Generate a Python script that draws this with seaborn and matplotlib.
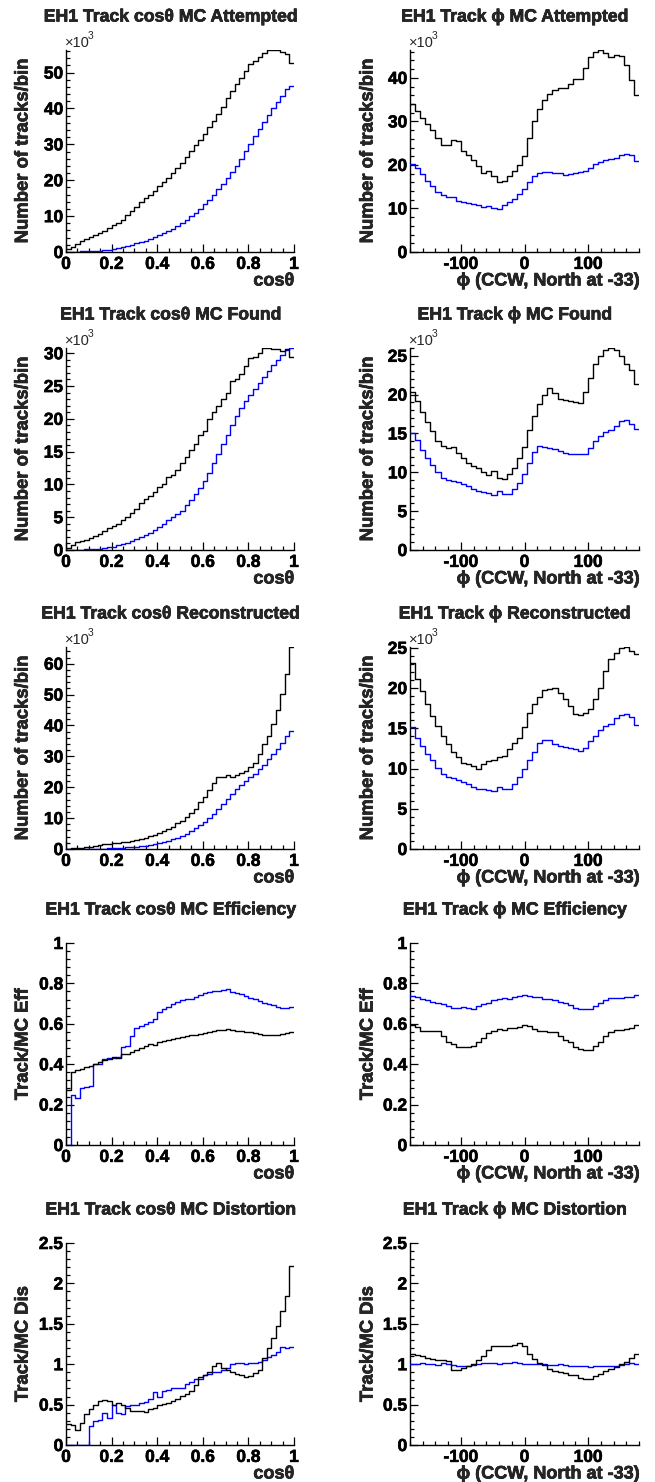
import numpy as np
import pandas as pd
import matplotlib
matplotlib.use("Agg")
import matplotlib.pyplot as plt
import matplotlib.patheffects as pe
import seaborn as sns
from matplotlib.ticker import MultipleLocator, FixedLocator, FuncFormatter

# ---------------------------------------------------------------- binning
cos_range = (0.0, 1.0)       # 50 bins in cos(theta)
cos_nbins = 50
phi_range = (-180.0, 180.0)  # 45 bins of 8 degrees
phi_nbins = 45

cos_ticks = [0, 0.2, 0.4, 0.6, 0.8, 1.0]
phi_ticks = [-100, 0, 100]

# ---------------------------------------------------------------- counts (x10^3 tracks/bin)
cos_att_black = [0.8, 1.5, 2.3, 3.0, 3.5, 4.2, 4.7, 5.3, 5.9, 6.6,
                 7.5, 8.2, 9.0, 10.2, 11.3, 12.6, 13.8, 15.0, 16.0, 17.1,
                 18.3, 19.5, 20.7, 21.9, 23.3, 24.8, 26.4, 28.1, 29.7, 31.2,
                 33.0, 34.8, 36.6, 38.5, 40.5, 43.0, 45.0, 46.8, 48.5, 50.5,
                 52.3, 53.3, 54.4, 55.6, 56.2, 56.3, 56.2, 55.7, 55.3, 52.7]
cos_att_blue = [0.05, 0.08, 0.12, 0.15, 0.2, 0.25, 0.3, 0.4, 0.5, 0.6,
                0.8, 1.0, 1.3, 1.6, 2.0, 2.4, 2.8, 3.2, 3.6, 4.1,
                4.6, 5.2, 5.8, 6.5, 7.2, 8.0, 8.9, 9.9, 11.0, 12.1,
                13.3, 14.6, 16.0, 17.5, 19.0, 20.6, 22.4, 24.1, 26.0, 28.1,
                30.2, 32.3, 34.4, 36.3, 38.2, 40.0, 41.8, 43.5, 45.5, 46.2]

phi_att_black = [33.9, 32.5, 30.7, 29.5, 28.0, 26.3, 24.5, 24.5, 25.7, 25.4,
                 23.2, 22.3, 21.2, 19.8, 18.1, 18.7, 17.4, 16.0, 16.4, 17.5,
                 18.7, 20.0, 22.1, 26.3, 30.1, 32.9, 35.0, 36.2, 37.3, 37.6,
                 37.7, 38.6, 39.8, 39.8, 42.3, 44.7, 45.9, 46.4, 45.6, 44.9,
                 45.3, 45.0, 42.9, 39.6, 36.0]
phi_att_blue = [20.2, 19.4, 17.9, 16.4, 15.2, 13.7, 13.0, 12.7, 12.6, 11.8,
                11.4, 11.3, 11.0, 10.8, 10.3, 10.5, 10.1, 9.9, 10.7, 11.4,
                12.2, 13.3, 14.5, 16.0, 17.5, 18.1, 18.3, 18.3, 18.1, 18.1,
                17.8, 17.9, 18.1, 18.3, 18.5, 19.4, 20.2, 20.7, 21.1, 21.3,
                21.6, 22.3, 22.6, 22.3, 21.0]

cos_fnd_black = [0.25, 0.75, 1.15, 1.4, 1.6, 1.9, 2.2, 2.5, 2.9, 3.3,
                 3.6, 4.0, 4.5, 5.1, 5.7, 6.3, 7.2, 7.8, 8.2, 8.8,
                 9.6, 10.1, 11.1, 11.4, 12.2, 13.2, 14.2, 15.2, 16.1, 17.5,
                 18.1, 20.0, 21.0, 22.0, 23.1, 23.9, 25.7, 26.1, 26.9, 28.1,
                 29.3, 29.5, 30.0, 30.8, 30.8, 30.6, 30.6, 30.4, 30.7, 29.5]
cos_fnd_blue = [0.02, 0.03, 0.05, 0.07, 0.1, 0.12, 0.15, 0.2, 0.3, 0.4,
                0.5, 0.7, 0.9, 1.1, 1.4, 1.7, 2.0, 2.3, 2.6, 3.0,
                3.5, 3.9, 4.5, 5.0, 5.5, 6.0, 6.8, 7.7, 8.6, 9.5,
                10.5, 11.8, 13.2, 14.6, 16.2, 17.6, 19.0, 20.4, 21.6, 22.7,
                23.7, 24.6, 25.5, 26.4, 27.3, 28.2, 29.0, 29.8, 30.5, 30.8]

phi_fnd_black = [20.3, 19.2, 17.7, 16.5, 15.3, 14.0, 13.4, 13.1, 13.2, 12.5,
                 11.8, 11.2, 10.8, 10.5, 10.0, 9.6, 10.2, 9.3, 9.2, 9.8,
                 10.6, 11.9, 13.3, 15.4, 17.3, 18.8, 20.0, 20.8, 20.2, 19.5,
                 19.3, 19.2, 19.0, 18.9, 20.3, 22.2, 24.0, 25.0, 25.7, 26.0,
                 25.8, 25.0, 24.0, 23.2, 21.4]
phi_fnd_blue = [15.1, 14.2, 12.9, 11.9, 11.0, 10.1, 9.3, 9.0, 8.9, 8.75,
                8.5, 8.2, 7.8, 7.6, 7.5, 7.3, 7.1, 7.55, 7.25, 7.25,
                7.8, 8.6, 9.8, 11.2, 12.6, 13.4, 13.3, 13.1, 13.0, 12.8,
                12.5, 12.4, 12.4, 12.3, 12.4, 13.1, 14.0, 14.7, 15.2, 15.5,
                16.0, 16.6, 16.7, 16.2, 15.6]

cos_rec_black = [0.1, 0.2, 0.3, 0.45, 0.6, 0.8, 1.0, 1.2, 1.5, 1.7,
                 1.9, 2.1, 2.2, 2.4, 2.6, 2.9, 3.2, 3.6, 4.1, 4.6,
                 5.1, 5.8, 6.4, 7.2, 8.3, 9.2, 10.4, 11.7, 13.1, 15.1,
                 16.8, 19.0, 21.3, 23.4, 23.4, 23.8, 23.2, 23.8, 24.6, 25.3,
                 26.4, 27.7, 30.7, 33.9, 36.6, 40.6, 44.9, 50.3, 56.5, 65.4]
cos_rec_blue = [0.02, 0.03, 0.04, 0.05, 0.06, 0.08, 0.1, 0.12, 0.15, 0.2,
                0.25, 0.3, 0.4, 0.5, 0.6, 0.75, 0.9, 1.1, 1.3, 1.6,
                1.9, 2.3, 2.7, 3.2, 3.7, 4.3, 5.0, 5.8, 6.7, 7.7,
                8.8, 10.0, 11.4, 13.0, 14.5, 16.2, 17.8, 19.4, 20.7, 22.0,
                23.2, 24.4, 25.8, 27.3, 29.0, 30.8, 32.4, 34.2, 36.6, 38.2]

phi_rec_black = [23.1, 21.1, 19.6, 18.0, 16.5, 15.3, 14.0, 13.0, 12.1, 11.4,
                 10.7, 10.5, 10.3, 10.0, 10.5, 10.95, 11.0, 11.4, 11.6, 12.4,
                 13.2, 13.8, 15.1, 16.9, 18.0, 18.9, 19.8, 19.9, 20.0, 19.4,
                 18.6, 17.8, 16.8, 16.7, 16.9, 17.4, 18.7, 20.0, 22.1, 23.6,
                 24.4, 25.0, 25.1, 24.6, 24.2]
phi_rec_blue = [15.1, 13.8, 12.8, 11.8, 11.0, 10.1, 9.3, 9.0, 8.8, 8.55,
                8.3, 8.05, 7.65, 7.5, 7.45, 7.35, 7.25, 7.65, 7.45, 7.45,
                8.05, 9.0, 9.9, 11.0, 12.0, 13.2, 13.6, 13.55, 13.0, 12.8,
                12.7, 12.5, 12.4, 12.2, 12.6, 13.4, 14.0, 14.75, 15.3, 15.5,
                16.3, 16.6, 16.8, 16.4, 15.4]

# ---------------------------------------------------------------- ratios
cos_eff_black = [0.27, 0.36, 0.37, 0.375, 0.385, 0.39, 0.40, 0.41, 0.42, 0.425,
                 0.435, 0.43, 0.45, 0.45, 0.46, 0.47, 0.48, 0.49, 0.50, 0.497,
                 0.51, 0.515, 0.52, 0.525, 0.528, 0.533, 0.54, 0.544, 0.546, 0.548,
                 0.552, 0.56, 0.566, 0.569, 0.57, 0.572, 0.569, 0.564, 0.562, 0.56,
                 0.557, 0.554, 0.55, 0.546, 0.544, 0.544, 0.546, 0.55, 0.554, 0.56]
cos_eff_blue = [0.0, 0.25, 0.233, 0.28, 0.287, 0.292, 0.40, 0.40, 0.426, 0.43,
                0.43, 0.435, 0.484, 0.49, 0.54, 0.58, 0.59, 0.60, 0.61, 0.623,
                0.66, 0.672, 0.684, 0.697, 0.708, 0.718, 0.721, 0.725, 0.734, 0.741,
                0.751, 0.757, 0.76, 0.764, 0.769, 0.77, 0.757, 0.751, 0.746, 0.738,
                0.73, 0.721, 0.713, 0.705, 0.70, 0.692, 0.685, 0.68, 0.68, 0.684]

phi_eff_black = [0.595, 0.582, 0.566, 0.562, 0.562, 0.562, 0.538, 0.511, 0.5, 0.484,
                 0.484, 0.484, 0.492, 0.508, 0.528, 0.554, 0.566, 0.574, 0.570, 0.577,
                 0.579, 0.582, 0.595, 0.587, 0.574, 0.566, 0.562, 0.561, 0.557, 0.538,
                 0.521, 0.508, 0.484, 0.475, 0.472, 0.472, 0.489, 0.508, 0.538, 0.557,
                 0.570, 0.570, 0.572, 0.58, 0.593]
phi_eff_blue = [0.738, 0.734, 0.721, 0.718, 0.708, 0.702, 0.697, 0.689, 0.68, 0.68,
                0.685, 0.68, 0.675, 0.689, 0.697, 0.705, 0.718, 0.725, 0.73, 0.725,
                0.734, 0.738, 0.743, 0.738, 0.734, 0.734, 0.725, 0.721, 0.718, 0.708,
                0.702, 0.692, 0.68, 0.672, 0.672, 0.672, 0.689, 0.705, 0.718, 0.73,
                0.73, 0.73, 0.734, 0.734, 0.741]

cos_dis_black = [0.255, 0.247, 0.185, 0.268, 0.38, 0.44, 0.494, 0.548, 0.556, 0.544,
                 0.50, 0.515, 0.494, 0.46, 0.424, 0.42, 0.42, 0.412, 0.44, 0.46,
                 0.494, 0.506, 0.523, 0.548, 0.568, 0.605, 0.63, 0.667, 0.741, 0.844,
                 0.865, 0.906, 0.98, 1.01, 0.955, 0.927, 0.898, 0.873, 0.865, 0.844,
                 0.853, 0.886, 0.93, 1.08, 1.2, 1.32, 1.47, 1.66, 1.85, 2.22]
cos_dis_blue = [0.0, 0.0, 0.0, 0.0, 0.0, 0.23, 0.30, 0.31, 0.39, 0.34,
                0.49, 0.39, 0.38, 0.486, 0.494, 0.50, 0.515, 0.527, 0.568, 0.659,
                0.597, 0.667, 0.68, 0.70, 0.70, 0.71, 0.76, 0.78, 0.815, 0.815,
                0.865, 0.873, 0.906, 0.906, 0.927, 0.947, 1.0, 1.01, 1.01, 1.0,
                1.02, 1.02, 1.03, 1.05, 1.09, 1.11, 1.15, 1.215, 1.2, 1.207]

phi_dis_black = [1.13, 1.11, 1.10, 1.08, 1.06, 1.05, 1.05, 1.04, 0.93, 0.93,
                 0.95, 0.98, 1.0, 1.05, 1.10, 1.18, 1.225, 1.225, 1.225, 1.225,
                 1.235, 1.26, 1.22, 1.13, 1.07, 1.02, 0.99, 0.94, 0.91, 0.90,
                 0.89, 0.87, 0.865, 0.83, 0.82, 0.82, 0.85, 0.88, 0.91, 0.94,
                 0.97, 1.00, 1.03, 1.08, 1.13]
phi_dis_blue = [1.0, 1.0, 1.01, 1.0, 1.0, 0.99, 1.01, 1.0, 0.99, 0.98,
                0.98, 0.98, 0.99, 1.0, 1.01, 1.01, 1.02, 1.0, 1.01, 1.02,
                1.03, 1.01, 1.0, 1.0, 1.0, 1.0, 1.0, 0.99, 0.99, 1.0,
                0.99, 0.98, 0.98, 0.98, 0.98, 0.97, 0.98, 0.98, 0.98, 0.98,
                0.98, 0.99, 1.0, 1.01, 1.0]

# ---------------------------------------------------------------- style
sns.set_theme(style="ticks")
plt.rcParams["font.family"] = ["Liberation Sans", "DejaVu Sans"]
plt.rcParams["font.weight"] = "bold"
plt.rcParams["axes.labelweight"] = "bold"

PX_W, PX_H = 655, 1482
fig = plt.figure(figsize=(PX_W / 100, PX_H / 100), dpi=100)
fig.patch.set_facecolor("white")

# slightly heavier strokes for the bold lettering
heavy = [pe.withStroke(linewidth=0.45, foreground="black")]


def fx(px):
    return px / PX_W


def fy(py):
    return 1.0 - py / PX_H


row_tops = [50, 348, 647, 943, 1243]
frame_h = 202
col_span = [(66, 294), (410, 639)]
title_x = [171, 515]
ylab_x = [23, 368]

count_label = "Number of tracks/bin"
panels = [
    # row, col, title, y title, axis kind, black, blue, ymax, major, minor, x10^3
    (0, 0, "EH1 Track cos\u03b8 MC Attempted", count_label, "cos", cos_att_black, cos_att_blue, None, 10, 2, True),
    (0, 1, "EH1 Track \u03d5 MC Attempted", count_label, "phi", phi_att_black, phi_att_blue, None, 10, 2, True),
    (1, 0, "EH1 Track cos\u03b8 MC Found", count_label, "cos", cos_fnd_black, cos_fnd_blue, None, 5, 1, True),
    (1, 1, "EH1 Track \u03d5 MC Found", count_label, "phi", phi_fnd_black, phi_fnd_blue, None, 5, 1, True),
    (2, 0, "EH1 Track cos\u03b8 Reconstructed", count_label, "cos", cos_rec_black, cos_rec_blue, None, 10, 2, True),
    (2, 1, "EH1 Track \u03d5 Reconstructed", count_label, "phi", phi_rec_black, phi_rec_blue, None, 5, 1, True),
    (3, 0, "EH1 Track cos\u03b8 MC Efficiency", "Track/MC Eff", "cos", cos_eff_black, cos_eff_blue, 1.0, 0.2, 0.04, False),
    (3, 1, "EH1 Track \u03d5 MC Efficiency", "Track/MC Eff", "phi", phi_eff_black, phi_eff_blue, 1.0, 0.2, 0.04, False),
    (4, 0, "EH1 Track cos\u03b8 MC Distortion", "Track/MC Dis", "cos", cos_dis_black, cos_dis_blue, 2.5, 0.5, 0.1, False),
    (4, 1, "EH1 Track \u03d5 MC Distortion", "Track/MC Dis", "phi", phi_dis_black, phi_dis_blue, 2.5, 0.5, 0.1, False),
]

fmt = FuncFormatter(lambda v, _: f"{v:g}")

for row, col, title, ytitle, kind, black, blue, ymax, major, minor, scaled in panels:
    x0, x1 = col_span[col]
    top = row_tops[row]
    ax = fig.add_axes([fx(x0), fy(top + frame_h), fx(x1) - fx(x0), frame_h / PX_H])

    lo, hi = cos_range if kind == "cos" else phi_range
    nb = cos_nbins if kind == "cos" else phi_nbins
    width = (hi - lo) / nb
    centers = lo + width * (np.arange(nb) + 0.5)
    df = pd.DataFrame({
        "x": np.concatenate([centers, centers]),
        "w": np.concatenate([black, blue]),
        "series": ["black"] * nb + ["blue"] * nb,
    })
    sns.histplot(data=df, x="x", weights="w", hue="series", hue_order=["black", "blue"],
                 bins=nb, binrange=(lo, hi), element="step", fill=False,
                 palette={"black": "black", "blue": "#0000ff"},
                 linewidth=1.0, legend=False, ax=ax, zorder=3)

    ax.set_xlim(lo, hi)
    top_val = ymax if ymax is not None else max(max(black), max(blue))
    ax.set_ylim(0, top_val)

    ax.set_facecolor("white")
    ax.grid(False)
    for side in ("top", "right"):
        ax.spines[side].set_visible(False)
    for side in ("left", "bottom"):
        ax.spines[side].set_linewidth(1.0)
        ax.spines[side].set_color("black")

    if kind == "cos":
        ax.xaxis.set_major_locator(FixedLocator(cos_ticks))
        ax.xaxis.set_minor_locator(MultipleLocator(0.05))
        xtitle = "cos\u03b8"
    else:
        ax.xaxis.set_major_locator(FixedLocator(phi_ticks))
        ax.xaxis.set_minor_locator(MultipleLocator(20))
        xtitle = "\u03d5 (CCW, North at -33)"
    ax.xaxis.set_major_formatter(fmt)
    ax.yaxis.set_major_locator(MultipleLocator(major))
    ax.yaxis.set_minor_locator(MultipleLocator(minor))
    ax.yaxis.set_major_formatter(fmt)

    ax.tick_params(which="both", direction="in", colors="black", width=0.9,
                   top=False, right=False, labelsize=12.5)
    ax.tick_params(which="major", length=5.5)
    ax.tick_params(which="minor", length=2.8)
    ax.tick_params(axis="x", which="major", pad=3.5)
    ax.tick_params(axis="y", which="major", pad=2)
    for lab in ax.get_xticklabels() + ax.get_yticklabels():
        lab.set_fontweight("bold")
        lab.set_path_effects(heavy)
    ax.set_xlabel("")
    ax.set_ylabel("")

    # panel title, axis titles
    fig.text(fx(title_x[col]), fy(top - 33), title, ha="center", va="center",
             fontsize=12.7, fontweight="bold", path_effects=heavy)
    fig.text(fx(ylab_x[col]), fy(top + frame_h / 2), ytitle, rotation=90,
             ha="center", va="center", fontsize=13.3, fontweight="bold", path_effects=heavy)
    fig.text(fx(x1), fy(top + frame_h + 29), xtitle, ha="right", va="center",
             fontsize=13, fontweight="bold", path_effects=heavy)
    if scaled:
        fig.text(fx(x0 - 1), fy(top - 3), "\u00d710", ha="left", va="baseline",
                 fontsize=10.5, fontweight="normal")
        fig.text(fx(x0 + 22), fy(top - 11), "3", ha="left", va="baseline",
                 fontsize=7.5, fontweight="normal")

fig.savefig("out.png", dpi=100, facecolor="white")
